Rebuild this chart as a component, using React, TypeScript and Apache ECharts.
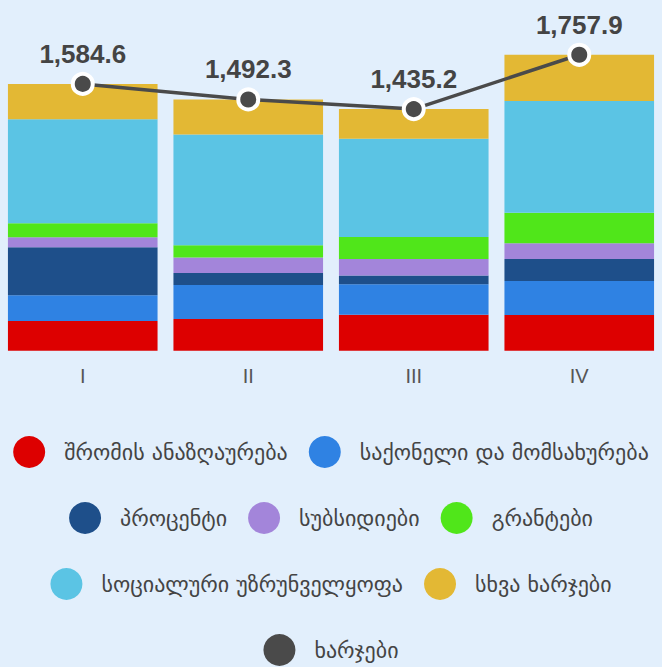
import React, { useEffect, useRef } from "react";
import * as echarts from "echarts";

const categories = ["I", "II", "III", "IV"];
const seriesNames = [
  "შრომის ანაზღაურება",
  "საქონელი და მომსახურება",
  "პროცენტი",
  "სუბსიდიები",
  "გრანტები",
  "სოციალური უზრუნველყოფა",
  "სხვა ხარჯები",
];
const lineName = "ხარჯები";
const compensation = [176, 188, 214, 212];
const goods = [154, 202, 180, 202];
const interest = [285, 71, 53, 131];
const subsidies = [59, 93, 97, 93];
const grants = [83, 73, 131, 182];
const social = [618, 657, 584, 663];
const other = [209.6, 208.3, 176.2, 274.9];
const totals = [1584.6, 1492.3, 1435.2, 1757.9];
const colors = ["#dd0000", "#2f82e3", "#1e4f8a", "#a385da", "#50e61a", "#5bc4e4", "#e3b834"];
const lineColor = "#4a4a4a";

const legendRows = [
  [seriesNames[0], seriesNames[1]],
  [seriesNames[2], seriesNames[3], seriesNames[4]],
  [seriesNames[5], seriesNames[6]],
  [lineName],
];

export default function App() {
  const ref = useRef<HTMLDivElement>(null);
  useEffect(() => {
    document.body.style.margin = "0";
    const chart = echarts.init(ref.current!, null, { renderer: "svg" });
    const stacks = [compensation, goods, interest, subsidies, grants, social, other];
    const font = "'Liberation Sans', Arial, 'DejaVu Sans', sans-serif";
    chart.setOption({
      animation: false,
      backgroundColor: "#e2effc",
      textStyle: { fontFamily: font },
      grid: { left: -2, right: -4, top: 14, bottom: 316.3 },
      xAxis: {
        type: "category",
        data: categories,
        axisLine: { show: false },
        axisTick: { show: false },
        axisLabel: { fontSize: 20, color: "#555", margin: 15, fontFamily: font },
      },
      yAxis: {
        type: "value",
        min: 0,
        max: 2000,
        show: false,
        splitLine: { show: false },
      },
      legend: legendRows.map((row, i) => ({
        data: row.map((n) => ({ name: n, icon: "circle" })),
        left: "center",
        top: 436 + i * 66,
        padding: 0,
        itemWidth: 32,
        itemHeight: 32,
        itemGap: 21,
        itemStyle: { borderWidth: 0 },
        textStyle: {
          fontSize: 22,
          color: "#444",
          padding: [0, 0, 0, 14],
          fontFamily: "'DejaVu Sans', sans-serif",
        },
      })),
      series: [
        ...stacks.map((d, i) => ({
          name: seriesNames[i],
          type: "bar",
          stack: "total",
          data: d,
          barCategoryGap: "9.6%",
          itemStyle: { color: colors[i] },
        })),
        {
          name: lineName,
          type: "line",
          data: totals,
          z: 5,
          symbol: "circle",
          symbolSize: 20,
          lineStyle: { color: lineColor, width: 3.5 },
          itemStyle: { color: lineColor, borderColor: "#fff", borderWidth: 4 },
          label: {
            show: true,
            position: "top",
            distance: 5,
            fontSize: 26,
            fontWeight: "bold",
            color: "#444",
            fontFamily: font,
            formatter: (p: any) =>
              Number(p.value).toLocaleString("en-US", {
                minimumFractionDigits: 1,
                maximumFractionDigits: 1,
              }),
          },
        },
      ],
    });
    return () => chart.dispose();
  }, []);
  return <div ref={ref} style={{ width: 662, height: 667 }} />;
}
